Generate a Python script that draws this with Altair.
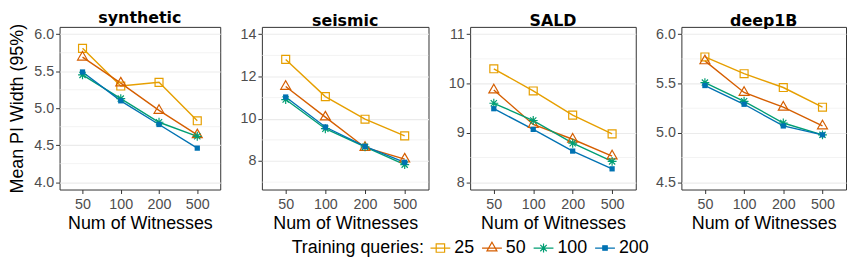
import altair as alt
import pandas as pd

witnesses = ["50", "100", "200", "500"]
queries = ["25", "50", "100", "200"]
colors = ["#E69F00", "#D55E00", "#009E73", "#0072B2"]

synthetic = {
    "25": [5.81, 5.30, 5.35, 4.83],
    "50": [5.69, 5.34, 4.97, 4.64],
    "100": [5.45, 5.13, 4.81, 4.62],
    "200": [5.49, 5.10, 4.78, 4.46],
}
seismic = {
    "25": [12.81, 11.05, 9.98, 9.19],
    "50": [11.53, 10.08, 8.64, 8.09],
    "100": [10.91, 9.53, 8.67, 7.83],
    "200": [11.03, 9.61, 8.69, 7.94],
}
sald = {
    "25": [10.30, 9.85, 9.36, 8.98],
    "50": [9.87, 9.17, 8.87, 8.53],
    "100": [9.60, 9.25, 8.79, 8.42],
    "200": [9.49, 9.07, 8.63, 8.27],
}
deep1b = {
    "25": [5.77, 5.60, 5.46, 5.26],
    "50": [5.73, 5.41, 5.26, 5.07],
    "100": [5.51, 5.32, 5.10, 4.98],
    "200": [5.48, 5.29, 5.07, 4.98],
}

limits_synthetic = [4.0, 6.0]
limits_seismic = [7.0, 14.0]
limits_sald = [8.0, 11.0]
limits_deep1b = [4.5, 6.0]

major_synthetic = [4.0, 4.5, 5.0, 5.5, 6.0]
major_seismic = [8, 10, 12, 14]
major_sald = [8, 9, 10, 11]
major_deep1b = [4.5, 5.0, 5.5, 6.0]

minor_synthetic = [4.25, 4.75, 5.25, 5.75]
minor_seismic = [7, 9, 11, 13]
minor_sald = [8.5, 9.5, 10.5]
minor_deep1b = [4.75, 5.25, 5.75]

FONT = "Liberation Sans"
ASTERISK = "M0,-1V1M-1,0H1M-0.7,-0.7L0.7,0.7M-0.7,0.7L0.7,-0.7"
TRIANGLE = "M0,-1.155L1,0.577H-1Z"
SQUARE = "M-1,-1H1V1H-1Z"

leg_paths = [
    "M-2,0H2M-0.85,-0.85H0.85V0.85H-0.85Z",
    "M-2,0H2M0,-1.155L1,0.577H-1Z",
    "M-2,0H2M0,-0.9V0.9M-0.9,0H0.9M-0.65,-0.65L0.65,0.65M-0.65,0.65L0.65,-0.65",
    "M-2,0H2M-0.45,-0.45H0.45V0.45H-0.45Z",
]
leg_fills = ["transparent", "transparent", "transparent", "#0072B2"]

point_styles = {
    "25": dict(shape=SQUARE, filled=False, size=16),
    "50": dict(shape=TRIANGLE, filled=False, size=25),
    "100": dict(shape=ASTERISK, filled=False, size=20),
    "200": dict(shape=SQUARE, filled=True, size=7),
}


def make_df(vals):
    rows = []
    for q in queries:
        for i, w in enumerate(witnesses):
            rows.append({"Q": q, "W": w, "idx": i, "V": vals[q][i]})
    return pd.DataFrame(rows)


def panel(name, vals, limits, majors, minors, fmt, width, ytitle, legend=False):
    df = make_df(vals)
    pad = (limits[1] - limits[0]) * 0.05
    yscale = alt.Scale(domain=[limits[0] - pad, limits[1] + pad], nice=False, zero=False)
    x = alt.X("W:N", sort=witnesses,
              scale=alt.Scale(type="point", padding=0.6, domain=witnesses),
              axis=alt.Axis(title="Num of Witnesses", labelAngle=0, titlePadding=4,
                            labelPadding=4))
    if ytitle:
        yaxis = alt.Axis(values=majors, format=fmt, title="Mean PI Width (95%)", titlePadding=7)
    else:
        yaxis = alt.Axis(values=majors, format=fmt, title=None)
    y = alt.Y("V:Q", scale=yscale, axis=yaxis)

    base = alt.Chart(df)
    minor = alt.Chart(pd.DataFrame({"m": minors})).mark_rule(
        color="#EBEBEB", strokeWidth=0.6
    ).encode(y=alt.Y("m:Q", scale=yscale, axis=yaxis))
    layers = [minor]
    for q, c in zip(queries, colors):
        layers.append(
            base.transform_filter(alt.datum.Q == q).mark_line(
                strokeWidth=1.4, color=c
            ).encode(x=x, y=y, order=alt.Order("idx:Q"))
        )
    for q, c in zip(queries, colors):
        st = point_styles[q]
        layers.append(
            base.transform_filter(alt.datum.Q == q).mark_point(
                shape=st["shape"], filled=st["filled"], size=st["size"] * 4,
                opacity=1, strokeWidth=1.2, color=c,
            ).encode(x=x, y=y)
        )
    if legend:
        lg = dict(title="Training queries:", orient="none", legendX=234, legendY=214,
                  direction="horizontal", titleOrient="left")
        layers.append(
            base.transform_filter("false").mark_point(
                opacity=1, filled=False, size=100, strokeWidth=1.2).encode(
                x=x, y=y,
                stroke=alt.Stroke("Q:N", scale=alt.Scale(domain=queries, range=colors),
                                  legend=alt.Legend(**lg)),
                shape=alt.Shape("Q:N", scale=alt.Scale(domain=queries, range=leg_paths),
                                legend=alt.Legend(**lg)),
                fill=alt.Fill("Q:N", scale=alt.Scale(domain=queries, range=leg_fills),
                              legend=alt.Legend(**lg)),
            )
        )
    return alt.layer(*layers).properties(
        width=width, height=164,
        title=alt.Title(name, fontSize=16, font="DejaVu Sans", fontWeight="bold",
                        color="black", offset=-3),
    )


p1 = panel("synthetic", synthetic, limits_synthetic, major_synthetic, minor_synthetic, ".1f", 162, True, legend=True)
p2 = panel("seismic", seismic, limits_seismic, major_seismic, minor_seismic, "d", 168, False)
p3 = panel("SALD", sald, limits_sald, major_sald, minor_sald, "d", 167, False)
p4 = panel("deep1B", deep1b, limits_deep1b, major_deep1b, minor_deep1b, ".1f", 166, False)

chart = alt.hconcat(p1, p2, p3, p4, spacing=18).properties(padding=0).configure_view(
    stroke="#333333", strokeWidth=1
).configure_axis(
    labelFont=FONT, labelFontSize=14.4, labelColor="#4D4D4D",
    tickColor="#333333", tickSize=4, tickWidth=1, labelPadding=2,
    gridColor="#EBEBEB", gridWidth=1.1, domain=False,
    titleFont=FONT, titleFontSize=18, titleFontWeight="normal", titleColor="black",
).configure_legend(
    titleFont=FONT, titleFontSize=18, titleFontWeight="normal", titleColor="black",
    labelFont=FONT, labelFontSize=18, labelColor="black",
    symbolSize=100, symbolStrokeWidth=1.2, labelOffset=5, columnPadding=4,
    titlePadding=7,
)

chart.save("out.html", embed_options={"renderer": "svg", "actions": False})
